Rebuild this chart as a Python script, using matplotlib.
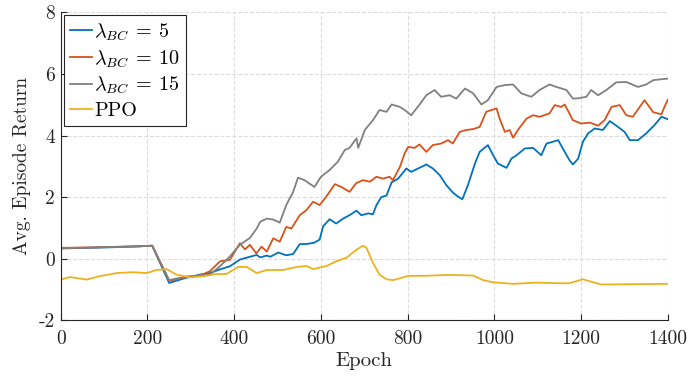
import matplotlib
matplotlib.use("Agg")
import matplotlib.pyplot as plt

plt.rcParams["font.family"] = "serif"
plt.rcParams["font.serif"] = ["cmr10", "DejaVu Serif"]
plt.rcParams["mathtext.fontset"] = "cm"
plt.rcParams["axes.unicode_minus"] = False
plt.rcParams["axes.formatter.use_mathtext"] = True

# lambda_BC = 5
ep_bc5 = [0, 60, 120, 180, 211, 250, 290, 321, 344, 367, 390, 413, 436, 452, 460, 475, 483, 502, 513,
          520, 536, 551, 570, 585, 597, 605, 620, 635, 651, 667, 682, 693, 709, 720, 728, 739, 751, 763,
          778, 797, 808, 824, 843, 858, 874, 889, 904, 912, 920, 926, 939, 955, 966, 985, 997, 1008,
          1028, 1039, 1051, 1070, 1089, 1108, 1120, 1135, 1147, 1162, 1173, 1181, 1193, 1204, 1216,
          1231, 1250, 1266, 1285, 1300, 1312, 1331, 1350, 1369, 1385, 1400]
ret_bc5 = [0.33, 0.35, 0.37, 0.40, 0.42, -0.79, -0.62, -0.52, -0.47, -0.35, -0.25, -0.03, 0.06, 0.12,
           0.04, 0.10, 0.06, 0.20, 0.14, 0.11, 0.15, 0.47, 0.48, 0.52, 0.62, 1.05, 1.28, 1.14, 1.30,
           1.42, 1.56, 1.41, 1.47, 1.44, 1.74, 2.00, 2.05, 2.48, 2.60, 2.93, 2.82, 2.93, 3.06, 2.93,
           2.71, 2.39, 2.15, 2.06, 1.98, 1.93, 2.39, 3.09, 3.47, 3.69, 3.36, 3.09, 2.95, 3.25, 3.36,
           3.58, 3.60, 3.36, 3.74, 3.80, 3.85, 3.47, 3.20, 3.06, 3.25, 3.80, 4.07, 4.23, 4.18, 4.47,
           4.28, 4.12, 3.85, 3.85, 4.07, 4.34, 4.61, 4.53]

# lambda_BC = 10
ep_bc10 = [0, 60, 120, 180, 211, 250, 290, 321, 344, 367, 390, 413, 425, 436, 451, 463, 475, 490, 505,
           520, 532, 551, 566, 582, 597, 612, 632, 647, 666, 681, 697, 713, 728, 743, 758, 766, 782,
           793, 801, 816, 827, 843, 858, 877, 893, 904, 920, 935, 951, 966, 981, 993, 1005, 1012, 1024,
           1035, 1043, 1054, 1074, 1089, 1104, 1127, 1139, 1154, 1162, 1181, 1200, 1220, 1239, 1254,
           1270, 1289, 1304, 1319, 1346, 1366, 1385, 1392, 1400]
ret_bc10 = [0.35, 0.36, 0.38, 0.40, 0.42, -0.72, -0.60, -0.55, -0.41, -0.09, -0.04, 0.50, 0.30, 0.45,
            0.17, 0.39, 0.23, 0.66, 0.55, 1.03, 0.98, 1.41, 1.57, 1.85, 1.74, 2.01, 2.42, 2.33, 2.17,
            2.45, 2.55, 2.50, 2.66, 2.60, 2.66, 2.55, 2.98, 3.42, 3.63, 3.60, 3.71, 3.47, 3.69, 3.74,
            3.85, 3.74, 4.12, 4.18, 4.21, 4.28, 4.77, 4.83, 4.88, 4.55, 4.12, 4.18, 3.93, 4.18, 4.55,
            4.66, 4.61, 4.72, 4.99, 4.93, 5.01, 4.50, 4.39, 4.42, 4.32, 4.50, 4.93, 4.99, 4.66, 4.61,
            5.15, 4.76, 4.69, 4.93, 5.17]

# lambda_BC = 15
ep_bc15 = [0, 60, 120, 180, 211, 250, 290, 321, 344, 367, 390, 413, 436, 452, 460, 475, 490, 505, 520,
           536, 547, 562, 585, 600, 620, 639, 655, 666, 682, 686, 701, 720, 735, 751, 763, 782, 793,
           808, 827, 843, 862, 877, 897, 912, 932, 951, 970, 985, 1005, 1024, 1043, 1062, 1085, 1104,
           1127, 1143, 1166, 1181, 1193, 1212, 1223, 1239, 1258, 1281, 1304, 1331, 1350, 1366, 1385,
           1400]
ret_bc15 = [0.34, 0.36, 0.38, 0.40, 0.42, -0.70, -0.58, -0.55, -0.52, -0.25, 0.07, 0.45, 0.67, 0.98,
            1.20, 1.30, 1.27, 1.17, 1.74, 2.17, 2.63, 2.55, 2.33, 2.66, 2.88, 3.15, 3.53, 3.60, 3.91,
            3.60, 4.18, 4.50, 4.83, 4.77, 5.01, 4.93, 4.83, 4.66, 5.00, 5.31, 5.48, 5.26, 5.31, 5.20,
            5.53, 5.37, 5.01, 5.15, 5.58, 5.64, 5.66, 5.37, 5.26, 5.48, 5.66, 5.58, 5.48, 5.20, 5.21,
            5.26, 5.48, 5.31, 5.48, 5.73, 5.74, 5.58, 5.66, 5.80, 5.83, 5.85]

# PPO
ep_ppo = [0, 21, 60, 90, 129, 167, 198, 221, 244, 267, 298, 329, 359, 382, 409, 429, 452, 475, 513,
          544, 567, 582, 613, 636, 659, 682, 697, 705, 720, 735, 751, 766, 782, 801, 835, 897, 951,
          974, 997, 1043, 1097, 1150, 1173, 1204, 1223, 1246, 1319, 1400]
ret_ppo = [-0.68, -0.60, -0.68, -0.57, -0.47, -0.44, -0.47, -0.37, -0.34, -0.52, -0.61, -0.57, -0.50,
           -0.50, -0.27, -0.27, -0.47, -0.37, -0.37, -0.27, -0.24, -0.34, -0.24, -0.08, 0.03, 0.29,
           0.42, 0.35, -0.14, -0.52, -0.67, -0.70, -0.64, -0.56, -0.56, -0.53, -0.55, -0.70, -0.77,
           -0.82, -0.78, -0.80, -0.80, -0.67, -0.75, -0.84, -0.83, -0.82]

labels = [r"$\lambda_{BC} \:=\: 5$", r"$\lambda_{BC} \:=\: 10$", r"$\lambda_{BC} \:=\: 15$", "PPO"]
colors = ["#0072BD", "#D95319", "#808080", "#EDB120"]

x_ticks = [0, 200, 400, 600, 800, 1000, 1200, 1400]
y_ticks = [-2, 0, 2, 4, 6, 8]

fig = plt.figure(figsize=(6.9, 3.78), dpi=100)
ax = fig.add_axes([0.088, 0.153, 0.880, 0.814])

series = [(ep_bc5, ret_bc5), (ep_bc10, ret_bc10), (ep_bc15, ret_bc15), (ep_ppo, ret_ppo)]
for (ep, ret), lab, col in zip(series, labels, colors):
    ax.plot(ep, ret, color=col, lw=1.3, label=lab)

ax.set_xlim(0, 1400)
ax.set_ylim(-2, 8)
ax.set_xticks(x_ticks)
ax.set_xticklabels([str(t) for t in x_ticks])
ax.set_yticks(y_ticks)
ax.set_yticklabels([str(t) for t in y_ticks])
ax.tick_params(direction="in", length=4, width=0.8, colors="#262626", labelsize=14)
ax.tick_params(axis="x", pad=7)
ax.tick_params(axis="y", pad=4)
ax.grid(True, ls="--", color="#dcdcdc", lw=0.8)
ax.set_axisbelow(True)
for s in ["top", "right"]:
    ax.spines[s].set_visible(False)
for s in ["left", "bottom"]:
    ax.spines[s].set_color("#262626")
    ax.spines[s].set_linewidth(0.8)

ax.set_xlabel("Epoch", fontsize=15, color="#262626", labelpad=3)
ax.set_ylabel("Avg. Episode Return", fontsize=14, color="#262626", labelpad=6)

leg = ax.legend(loc="upper left", fontsize=14.5, frameon=True, fancybox=False, framealpha=1,
                edgecolor="#262626", handlelength=1.1, handletextpad=0.1, labelspacing=0.26,
                borderpad=0.3, borderaxespad=0.15)
leg.get_frame().set_linewidth(0.8)

fig.savefig("out.png", dpi=100)
